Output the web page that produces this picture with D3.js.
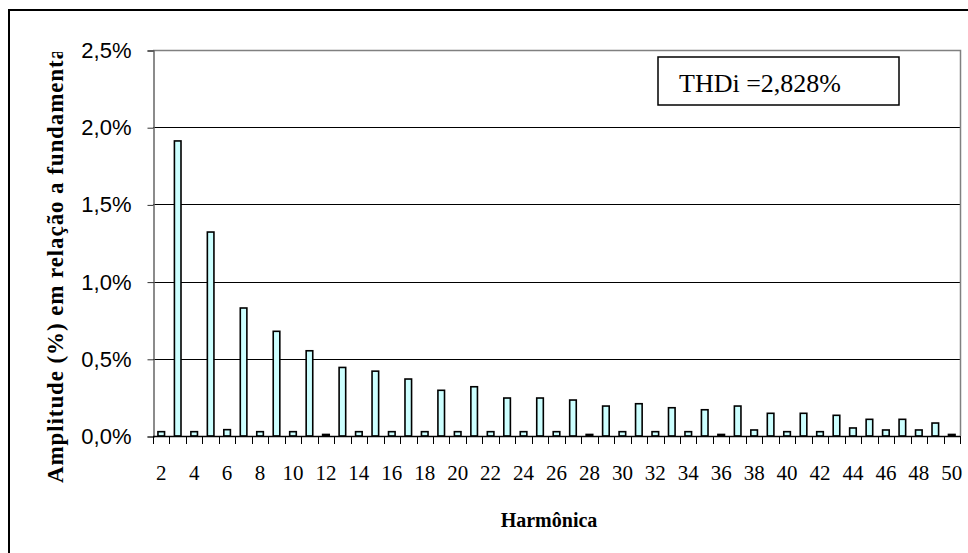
<!DOCTYPE html>
<html>
<head>
<meta charset="utf-8">
<script src="https://cdn.jsdelivr.net/npm/d3@7/dist/d3.min.js"></script>
<style>
  html, body { margin: 0; padding: 0; background: #fff; }
  svg { display: block; }
  .serif { font-family: "Liberation Serif", "Times New Roman", serif; }
  .sans { font-family: "Liberation Sans", Arial, sans-serif; }
</style>
</head>
<body>
<svg id="chart" width="968" height="553"></svg>
<script>
// Harmonic orders 2..50
const harmonics = [2,3,4,5,6,7,8,9,10,11,12,13,14,15,16,17,18,19,20,21,22,23,24,25,26,
  27,28,29,30,31,32,33,34,35,36,37,38,39,40,41,42,43,44,45,46,47,48,49,50];
// Amplitude of each harmonic, % of the fundamental
const amplitudes = [0.028,1.911,0.028,1.321,0.041,0.829,0.028,0.678,0.028,0.552,0.010,0.444,
  0.028,0.420,0.028,0.369,0.028,0.296,0.028,0.319,0.028,0.246,0.028,0.246,0.028,
  0.233,0.010,0.194,0.028,0.209,0.028,0.183,0.028,0.170,0.010,0.194,0.039,0.147,
  0.028,0.147,0.028,0.134,0.052,0.108,0.039,0.108,0.039,0.084,0.010];
const yTicks = [0, 0.5, 1.0, 1.5, 2.0, 2.5];
const xTickLabels = harmonics.filter(h => h % 2 === 0);
const thdText = "THDi =2,828%";
const yTitle = "Amplitude (%) em relação a fundamental";
const xTitle = "Harmônica";

const svg = d3.select("#chart");
const plotL = 153, plotR = 960, plotT = 50, plotB = 436;

const x = d3.scaleBand().domain(harmonics).range([plotL, plotR])
  .paddingInner(0.6).paddingOuter(0.3);
const y = d3.scaleLinear().domain([0, 2.5]).range([plotB, plotT]);
const fmt = v => d3.format(".1f")(v).replace(".", ",") + "%";

// outer frame
svg.append("rect").attr("x", 9).attr("y", 10).attr("width", 980).attr("height", 560)
  .attr("fill", "none").attr("stroke", "#000").attr("stroke-width", 2);

// horizontal gridlines
svg.append("g").selectAll("line").data(yTicks.filter(t => t > 0 && t < 2.5)).join("line")
  .attr("x1", plotL).attr("x2", plotR)
  .attr("y1", d => Math.round(y(d)) + 0.5).attr("y2", d => Math.round(y(d)) + 0.5)
  .attr("stroke", "#000").attr("stroke-width", 1);

// plot area top and right edges
svg.append("path")
  .attr("d", `M${plotL},${plotT + 0.5}H${plotR + 0.5}V${plotB}`)
  .attr("fill", "none").attr("stroke", "#808080").attr("stroke-width", 1.5);

// bars
svg.append("g").selectAll("rect").data(harmonics).join("rect")
  .attr("x", (d) => x(d))
  .attr("y", (d, i) => y(amplitudes[i]))
  .attr("width", x.bandwidth())
  .attr("height", (d, i) => plotB - y(amplitudes[i]))
  .attr("fill", "#CCFFFF").attr("stroke", "#000").attr("stroke-width", 1.6);

// y axis
const yAxis = svg.append("g").attr("transform", `translate(${plotL + 0.5},0.5)`)
  .call(d3.axisLeft(y).tickValues(yTicks).tickFormat(fmt).tickSize(6).tickPadding(16));
yAxis.attr("font-family", null).attr("font-size", null);
yAxis.select(".domain").attr("stroke", "#666").attr("stroke-width", 1.5);
yAxis.selectAll(".tick line").attr("stroke", "#333");
yAxis.selectAll(".tick text").attr("class", "sans")
  .attr("font-size", 22).attr("fill", "#000");

// x axis: line, boundary ticks, labels on even harmonics
const xg = svg.append("g");
xg.append("line").attr("x1", plotL).attr("x2", plotR)
  .attr("y1", plotB + 0.5).attr("y2", plotB + 0.5)
  .attr("stroke", "#000").attr("stroke-width", 1.5);
const bounds = harmonics.map(h => x(h) - x.step() * x.paddingInner() / 2).concat([plotR]);
xg.selectAll("line.tk").data(bounds).join("line").attr("class", "tk")
  .attr("x1", d => Math.round(d) + 0.5).attr("x2", d => Math.round(d) + 0.5)
  .attr("y1", plotB).attr("y2", plotB + 8)
  .attr("stroke", "#000").attr("stroke-width", 1);
xg.selectAll("text").data(xTickLabels).join("text")
  .attr("class", "serif")
  .attr("x", d => x(d) + x.bandwidth() / 2)
  .attr("y", 480)
  .attr("text-anchor", "middle")
  .attr("font-size", 21)
  .text(d => d);

// axis titles
svg.append("text").attr("class", "serif")
  .attr("x", 549).attr("y", 527).attr("text-anchor", "middle")
  .attr("font-weight", "bold").attr("font-size", 20).text(xTitle);

svg.append("clipPath").attr("id", "ytitle-clip")
  .append("rect").attr("x", 0).attr("y", 52).attr("width", 80).attr("height", 460);
svg.append("g").attr("clip-path", "url(#ytitle-clip)")
  .append("text").attr("class", "serif")
  .attr("transform", "translate(63,483) rotate(-90)")
  .attr("font-weight", "bold").attr("font-size", 23)
  .attr("letter-spacing", 0.9)
  .text(yTitle);

// THDi annotation
svg.append("rect").attr("x", 658).attr("y", 57).attr("width", 241).attr("height", 48)
  .attr("fill", "#fff").attr("stroke", "#000").attr("stroke-width", 1.5);
svg.append("text").attr("class", "serif")
  .attr("x", 679).attr("y", 92)
  .attr("font-size", 26).text(thdText);
</script>
</body>
</html>
